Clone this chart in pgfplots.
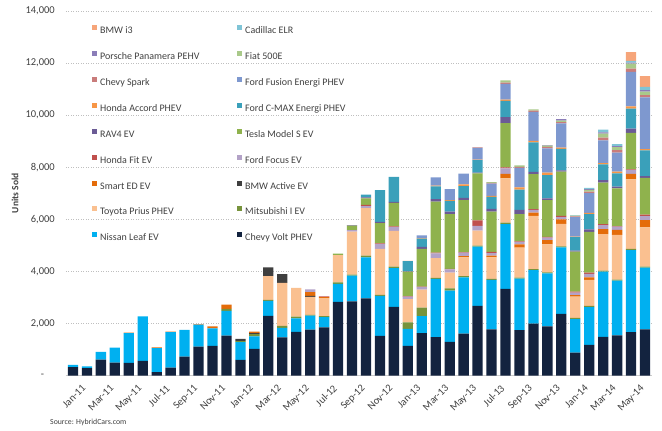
\documentclass[border=0pt]{standalone}
\usepackage{pgfplots}
\usepackage{pgfplotstable}
\pgfplotsset{compat=1.18}
\usepackage{fontspec}
\setmainfont{Carlito}
\definecolor{cvolt}{HTML}{13233F}
\definecolor{cleaf}{HTML}{00B0F0}
\definecolor{cmits}{HTML}{77933C}
\definecolor{cprius}{HTML}{FAC090}
\definecolor{cactive}{HTML}{3F3F3F}
\definecolor{csmart}{HTML}{E46C0A}
\definecolor{cfocus}{HTML}{B3A2C7}
\definecolor{cfit}{HTML}{C0504D}
\definecolor{ctesla}{HTML}{8FB24D}
\definecolor{crav}{HTML}{6B5B95}
\definecolor{ccmax}{HTML}{3AA0BA}
\definecolor{caccord}{HTML}{F79646}
\definecolor{cfusion}{HTML}{7E98CF}
\definecolor{cspark}{HTML}{C97C7B}
\definecolor{cfiat}{HTML}{A9C98A}
\definecolor{cpanam}{HTML}{8B7DB8}
\definecolor{celr}{HTML}{7FC4D6}
\definecolor{cithree}{HTML}{F6A57A}
\definecolor{ctext}{HTML}{404040}
\newcommand\legtxt[1]{\makebox[137bp][l]{\rule[-2.5bp]{0pt}{10bp}#1}}
\pgfplotstableread{
i volt leaf mits prius active smart focus fit tesla rav cmax accord fusion spark fiat panam elr ithree
0 321 87 0 0 0 0 0 0 0 0 0 0 0 0 0 0 0 0
1 281 67 0 0 0 0 0 0 0 0 0 0 0 0 0 0 0 0
2 608 298 0 0 0 0 0 0 0 0 0 0 0 0 0 0 0 0
3 493 573 0 0 0 0 0 0 0 0 0 0 0 0 0 0 0 0
4 481 1142 0 0 0 20 0 0 0 0 0 0 0 0 0 0 0 0
5 561 1708 0 0 0 0 0 0 0 0 0 0 0 0 0 0 0 0
6 125 931 0 0 0 20 0 0 0 0 0 0 0 0 0 0 0 0
7 302 1362 0 0 0 20 0 0 0 0 0 0 0 0 0 0 0 0
8 723 1031 0 0 0 0 0 0 0 0 0 0 0 0 0 0 0 0
9 1108 848 0 0 0 20 0 0 0 0 0 0 0 0 0 0 0 0
10 1139 672 0 0 0 80 0 0 0 0 0 0 0 0 0 0 0 0
11 1529 954 76 0 0 160 0 0 0 0 0 0 0 0 0 0 0 0
12 603 676 40 0 90 0 0 0 0 0 0 0 0 0 0 0 0 0
13 1023 478 85 0 40 55 0 0 0 0 0 0 0 0 0 0 0 0
14 2289 579 40 913 330 0 0 0 0 0 0 0 0 0 0 0 0 0
15 1462 370 70 1654 340 0 0 0 0 0 0 0 0 0 0 0 0 0
16 1680 510 70 1110 0 0 0 0 0 0 0 0 0 0 0 0 0 0
17 1760 535 30 696 40 140 110 0 0 0 0 0 0 0 0 0 0 0
18 1849 395 40 688 0 40 0 30 0 0 0 0 0 0 0 0 0 0
19 2831 685 60 1047 0 0 0 0 60 0 0 0 0 0 0 0 0 0
20 2851 984 40 1652 0 0 60 0 170 20 0 0 0 0 0 0 0 0
21 2961 1579 60 1831 0 0 70 50 250 40 110 0 0 0 0 0 0 0
22 1519 1539 40 1766 0 0 180 30 780 50 1220 0 0 0 0 0 0 0
23 2633 1489 60 1369 0 0 150 30 900 40 960 0 0 0 0 0 0 0
24 1140 650 250 890 0 0 100 20 940 20 380 10 0 0 0 0 0 0
25 1626 653 330 690 0 0 100 10 1450 80 320 20 100 0 0 0 0 0
26 1478 2236 40 750 0 0 190 30 1950 100 490 30 320 0 0 0 0 0
27 1290 1970 90 600 0 0 130 20 2100 90 420 30 420 0 0 0 0 0
28 1607 2160 50 720 0 50 130 20 2000 90 450 60 420 0 0 0 0 0
29 2670 2280 40 570 0 0 190 210 1800 30 480 20 450 20 0 0 0 0
30 1770 1900 40 830 0 60 100 50 1540 110 460 40 470 30 30 0 0 0
31 3330 2480 60 1700 0 170 220 30 1700 230 630 50 600 50 90 0 0 0
32 1740 1980 40 1150 0 130 90 20 1050 160 780 90 740 40 60 0 0 0
33 1990 2060 40 2040 0 130 100 30 1340 90 1130 65 1110 50 50 0 0 0
34 1890 2030 40 1080 0 160 100 20 1420 60 900 90 930 60 50 20 0 0
35 2370 2550 40 860 0 180 80 50 1700 50 820 50 930 50 60 60 0 0
36 880 1290 40 820 0 60 90 40 1540 40 510 20 750 30 30 0 20 0
37 1180 1450 40 1000 0 100 130 50 1570 90 590 50 750 60 70 30 50 0
38 1480 2510 40 1400 0 190 160 30 1600 90 610 50 870 110 150 50 100 0
39 1540 2100 40 1720 0 190 130 20 1450 60 510 70 730 100 110 40 80 0
40 1670 3150 40 2670 0 210 150 30 1400 160 770 90 1320 130 190 40 60 340
41 1770 2370 40 1510 0 280 150 60 1410 70 990 40 1990 90 130 60 130 410
}\data
\begin{document}
\begin{tikzpicture}
\useasboundingbox (-66bp,-55.5bp) rectangle (596bp,375.5bp);
\begin{axis}[
  scale only axis,
  width=586bp, height=364.5bp,
  at={(0,0)}, anchor=south west,
  ybar stacked,
  bar width=10.3bp,
  xmin=-0.5, xmax=41.5,
  ymin=0, ymax=14000,
  xtick={0,2,...,40},
  xticklabels={Jan-11,Mar-11,May-11,Jul-11,Sep-11,Nov-11,Jan-12,Mar-12,May-12,Jul-12,Sep-12,Nov-12,Jan-13,Mar-13,May-13,Jul-13,Sep-13,Nov-13,Jan-14,Mar-14,May-14},
  ytick={0,2000,...,14000},
  yticklabels={{-\hphantom{00}},{2,000},{4,000},{6,000},{8,000},{10,000},{12,000},{14,000}},
  major tick length=0pt,
  axis x line=bottom,
  axis y line=left,
  x axis line style={-, draw=black!20},
  y axis line style={draw=none},
  ymajorgrids,
  major grid style={black!25, dash pattern=on 1bp off 1.5bp},
  ticklabel style={font=\fontsize{10.5bp}{12bp}\selectfont, text=ctext},
  yticklabel style={anchor=east, inner sep=0pt, xshift=-11bp},
  xticklabel style={rotate=45, anchor=north east, inner sep=0pt, xshift=0bp, yshift=-12bp},
  ylabel={\textbf{Units Sold}},
  every axis y label/.style={at={(axis description cs:-0.087,0.5)}, rotate=90, anchor=center, font=\fontsize{9.5bp}{11bp}\selectfont, text=ctext},
  legend columns=2,
  reverse legend,
  legend cell align=left,
  legend image code/.code={\fill[#1] (0bp,0.5bp) rectangle (5bp,5.5bp); \path (8bp,0bp);},
  legend style={at={(axis description cs:0.0444,0.9616)}, anchor=north west, draw=none, fill=none,
    inner sep=0pt, column sep=0pt, row sep=15.9bp, nodes={inner sep=0pt, text=ctext},
    font=\fontsize{10bp}{12bp}\selectfont},
]
\addplot[fill=cvolt, draw=none] table[x=i, y=volt]{\data};
\addlegendentry{\legtxt{Chevy Volt PHEV}}
\addplot[fill=cleaf, draw=none] table[x=i, y=leaf]{\data};
\addlegendentry{\legtxt{Nissan Leaf EV}}
\addplot[fill=cmits, draw=none] table[x=i, y=mits]{\data};
\addlegendentry{\legtxt{Mitsubishi I EV}}
\addplot[fill=cprius, draw=none] table[x=i, y=prius]{\data};
\addlegendentry{\legtxt{Toyota Prius PHEV}}
\addplot[fill=cactive, draw=none] table[x=i, y=active]{\data};
\addlegendentry{\legtxt{BMW Active EV}}
\addplot[fill=csmart, draw=none] table[x=i, y=smart]{\data};
\addlegendentry{\legtxt{Smart ED EV}}
\addplot[fill=cfocus, draw=none] table[x=i, y=focus]{\data};
\addlegendentry{\legtxt{Ford Focus EV}}
\addplot[fill=cfit, draw=none] table[x=i, y=fit]{\data};
\addlegendentry{\legtxt{Honda Fit EV}}
\addplot[fill=ctesla, draw=none] table[x=i, y=tesla]{\data};
\addlegendentry{\legtxt{Tesla Model S EV}}
\addplot[fill=crav, draw=none] table[x=i, y=rav]{\data};
\addlegendentry{\legtxt{RAV4 EV}}
\addplot[fill=ccmax, draw=none] table[x=i, y=cmax]{\data};
\addlegendentry{\legtxt{Ford C-MAX Energi PHEV}}
\addplot[fill=caccord, draw=none] table[x=i, y=accord]{\data};
\addlegendentry{\legtxt{Honda Accord PHEV}}
\addplot[fill=cfusion, draw=none] table[x=i, y=fusion]{\data};
\addlegendentry{\legtxt{Ford Fusion Energi PHEV}}
\addplot[fill=cspark, draw=none] table[x=i, y=spark]{\data};
\addlegendentry{\legtxt{Chevy Spark}}
\addplot[fill=cfiat, draw=none] table[x=i, y=fiat]{\data};
\addlegendentry{\legtxt{Fiat 500E}}
\addplot[fill=cpanam, draw=none] table[x=i, y=panam]{\data};
\addlegendentry{\legtxt{Porsche Panamera PEHV}}
\addplot[fill=celr, draw=none] table[x=i, y=elr]{\data};
\addlegendentry{\legtxt{Cadillac ELR}}
\addplot[fill=cithree, draw=none] table[x=i, y=ithree]{\data};
\addlegendentry{\legtxt{BMW i3}}
\end{axis}
\node[anchor=west, inner sep=0pt, font=\fontsize{7.8bp}{9bp}\selectfont, text=ctext] at (-16bp,-46.5bp) {Source: HybridCars.com};
\end{tikzpicture}
\end{document}
